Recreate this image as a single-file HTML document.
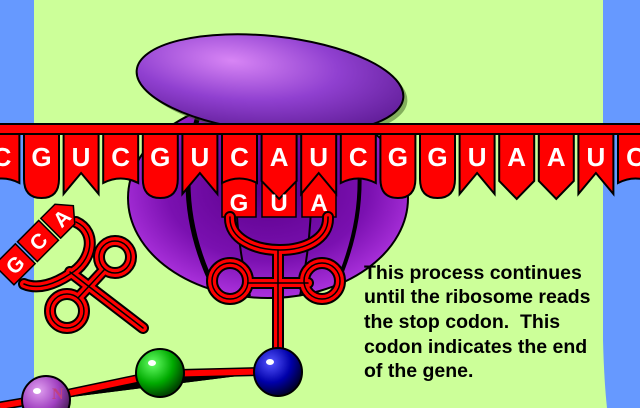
<!DOCTYPE html>
<html><head><meta charset="utf-8"><style>
html,body{margin:0;padding:0;width:640px;height:408px;overflow:hidden;background:#ccff99}
svg{display:block}
.t{font-family:"Liberation Sans",sans-serif;font-weight:bold;fill:#fff;font-size:26px;text-anchor:middle}
.p{font-family:"Liberation Sans",sans-serif;font-weight:bold;fill:#000;font-size:19.5px}
</style></head><body>
<svg width="640" height="408" viewBox="0 0 640 408" xmlns="http://www.w3.org/2000/svg">
<defs>
<radialGradient id="body" cx="0.5" cy="0.45" r="0.6">
<stop offset="0" stop-color="#5a008a"/><stop offset="0.6" stop-color="#7a10b0"/><stop offset="1" stop-color="#b83ae8"/></radialGradient>
<radialGradient id="cap" cx="0.35" cy="0.3" r="0.8">
<stop offset="0" stop-color="#d885f5"/><stop offset="0.5" stop-color="#9040d0"/><stop offset="1" stop-color="#5a1890"/></radialGradient>
<radialGradient id="gb" cx="0.35" cy="0.3" r="0.7"><stop offset="0" stop-color="#6f6"/><stop offset="0.6" stop-color="#0a0"/><stop offset="1" stop-color="#040"/></radialGradient>
<radialGradient id="bb" cx="0.35" cy="0.3" r="0.7"><stop offset="0" stop-color="#55f"/><stop offset="0.6" stop-color="#00a"/><stop offset="1" stop-color="#003"/></radialGradient>
<radialGradient id="pb" cx="0.35" cy="0.3" r="0.7"><stop offset="0" stop-color="#e0a0f0"/><stop offset="0.6" stop-color="#a040c0"/><stop offset="1" stop-color="#502060"/></radialGradient>
<path id="C" d="M0 0h35v49Q17.5 40 0 49Z"/>
<path id="G" d="M0 0h35v45Q35 64 17.5 64Q0 64 0 45Z"/>
<path id="U" d="M0 0h35v60L17.5 39L0 60Z"/>
<path id="A" d="M0 0h35v47L17.5 65L0 47Z"/>
</defs>
<rect x="0" y="0" width="34" height="408" fill="#6699ff"/>
<path d="M603 0H640V408H607Q604 380 603 340Z" fill="#6699ff"/>
<!-- ribosome body -->
<ellipse cx="268" cy="198" rx="140" ry="100" fill="url(#body)" stroke="#000" stroke-width="2"/>
<path d="M200 110 Q170 200 215 290" fill="none" stroke="#000" stroke-width="5"/>
<path d="M245 110 Q225 200 250 296" fill="none" stroke="#000" stroke-width="2"/>
<path d="M305 110 Q320 200 300 296" fill="none" stroke="#000" stroke-width="2"/>
<path d="M350 115 Q375 200 335 288" fill="none" stroke="#000" stroke-width="4"/>
<!-- cap -->
<ellipse cx="274" cy="88" rx="134" ry="48" transform="rotate(6 274 88)" fill="#3a6020" opacity="0.5"/>
<ellipse cx="270" cy="84" rx="134" ry="48" transform="rotate(6 270 84)" fill="url(#cap)" stroke="#000" stroke-width="2"/>
<!-- anticodon boxes -->
<g stroke="#000" stroke-width="1.5" fill="#f00">
<rect x="222" y="170" width="34" height="47"/><rect x="262" y="170" width="34" height="47"/><rect x="302" y="170" width="34" height="47"/>
</g>
<!-- mRNA -->
<rect x="-2" y="124" width="644" height="10" fill="#f00" stroke="#000" stroke-width="2"/>
<g fill="#f00" stroke="#000" stroke-width="2">
<use href="#C" x="-15.6" y="134"/><use href="#G" x="24" y="134"/><use href="#U" x="63.6" y="134"/><use href="#C" x="103.2" y="134"/>
<use href="#G" x="142.8" y="134"/><use href="#U" x="182.4" y="134"/><use href="#C" x="222" y="134"/><use href="#A" x="261.6" y="134"/>
<use href="#U" x="301.2" y="134"/><use href="#C" x="340.8" y="134"/><use href="#G" x="380.4" y="134"/><use href="#G" x="420" y="134"/>
<use href="#U" x="459.6" y="134"/><use href="#A" x="499.2" y="134"/><use href="#A" x="538.8" y="134"/><use href="#U" x="578.4" y="134"/>
<use href="#C" x="618" y="134"/>
</g>
<g>
<text class="t" x="2" y="166">C</text><text class="t" x="41.5" y="166">G</text><text class="t" x="81" y="166">U</text><text class="t" x="120.7" y="166">C</text>
<text class="t" x="160.3" y="166">G</text><text class="t" x="199.9" y="166">U</text><text class="t" x="239.5" y="166">C</text><text class="t" x="279.1" y="166">A</text>
<text class="t" x="318.7" y="166">U</text><text class="t" x="358.3" y="166">C</text><text class="t" x="397.9" y="166">G</text><text class="t" x="437.5" y="166">G</text>
<text class="t" x="477.1" y="166">U</text><text class="t" x="516.7" y="166">A</text><text class="t" x="556.3" y="166">A</text><text class="t" x="595.9" y="166">U</text>
<text class="t" x="635.5" y="166">C</text>
</g>
<text class="t" x="239" y="211" style="font-size:24px">G</text><text class="t" x="279" y="211" style="font-size:24px">U</text><text class="t" x="319" y="211" style="font-size:24px">A</text>
<!-- bars between balls -->
<g stroke="#000" stroke-width="9"><path d="M0 406L46 398L160 374L278 371"/></g>
<g stroke="#f00" stroke-width="6"><path d="M0 406L46 398L160 374L278 371"/></g>
<!-- center tRNA -->
<g fill="none" stroke-linecap="round">
<g stroke="#000" stroke-width="12">
<path d="M230 217C228 260 330 262 328 217"/><path d="M278 250V372"/><path d="M248 283H308"/>
<circle cx="230" cy="281" r="18"/><circle cx="322" cy="281" r="18"/></g>
<g stroke="#f00" stroke-width="8">
<path d="M230 217C228 260 330 262 328 217"/><path d="M278 250V372"/><path d="M248 283H308"/>
<circle cx="230" cy="281" r="18"/><circle cx="322" cy="281" r="18"/></g>
<g stroke="#000" stroke-width="1.5">
<path d="M230 217C228 260 330 262 328 217"/><path d="M278 250V372"/><path d="M248 283H308"/>
<circle cx="230" cy="281" r="18"/><circle cx="322" cy="281" r="18"/></g>
</g>
<!-- left tRNA -->
<g fill="none" stroke-linecap="round">
<g stroke="#000" stroke-width="12">
<path d="M76 222C98 232 92 262 70 274C55 284 38 290 24 284"/><path d="M70 272L143 328"/><path d="M104 270L78 298"/>
<circle cx="115" cy="257" r="16"/><circle cx="67" cy="311" r="17"/></g>
<g stroke="#f00" stroke-width="8">
<path d="M76 222C98 232 92 262 70 274C55 284 38 290 24 284"/><path d="M70 272L143 328"/><path d="M104 270L78 298"/>
<circle cx="115" cy="257" r="16"/><circle cx="67" cy="311" r="17"/></g>
<g stroke="#000" stroke-width="1.5">
<path d="M76 222C98 232 92 262 70 274C55 284 38 290 24 284"/><path d="M70 272L143 328"/><path d="M104 270L78 298"/>
<circle cx="115" cy="257" r="16"/><circle cx="67" cy="311" r="17"/></g>
</g>
<g transform="translate(38 241) rotate(-45)">
<g fill="#f00" stroke="#000" stroke-width="1.5">
<rect x="-48" y="-14" width="30" height="28"/><rect x="-15" y="-14" width="30" height="28"/>
<path d="M18 -14H38L50 0L38 14H18Z"/></g>
<text class="t" x="-33" y="8" style="font-size:21px">G</text><text class="t" x="0" y="8" style="font-size:21px">C</text><text class="t" x="33" y="8" style="font-size:21px">A</text>
</g>
<!-- balls -->
<circle cx="160" cy="373" r="24" fill="url(#gb)" stroke="#000" stroke-width="2"/>
<ellipse cx="152" cy="363" rx="4" ry="3" fill="#fff"/>
<circle cx="278" cy="372" r="24" fill="url(#bb)" stroke="#000" stroke-width="2"/>
<ellipse cx="270" cy="362" rx="4" ry="3" fill="#fff"/>
<circle cx="46" cy="400" r="24" fill="url(#pb)" stroke="#000" stroke-width="2"/>
<ellipse cx="37" cy="391" rx="4" ry="3" fill="#fff"/>
<text x="52" y="399" style="font-family:'Liberation Serif',serif;font-weight:bold;font-size:16px;fill:#c04080">N</text>
<!-- text -->
<g>
<text class="p" x="364" y="279">This process continues</text>
<text class="p" x="364" y="303">until the ribosome reads</text>
<text class="p" x="364" y="328" xml:space="preserve">the stop codon.  This</text>
<text class="p" x="364" y="353">codon indicates the end</text>
<text class="p" x="364" y="377">of the gene.</text>
</g>
</svg>
</body></html>
